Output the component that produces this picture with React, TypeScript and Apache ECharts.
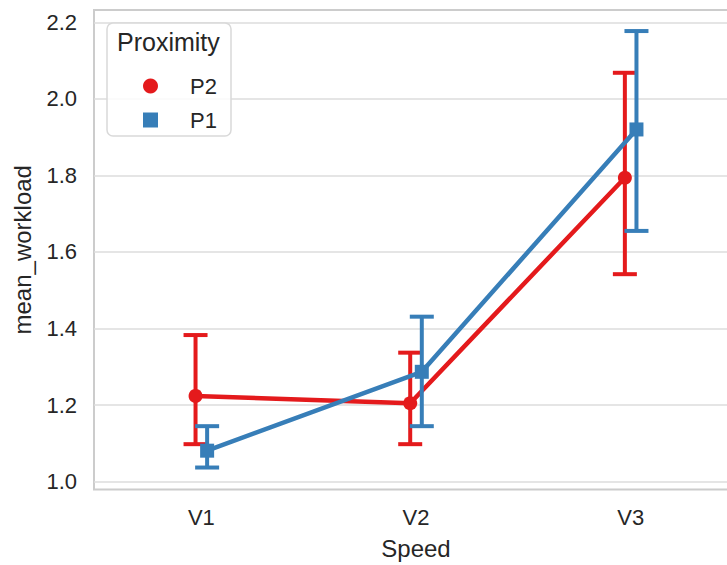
import React, { useEffect, useRef } from "react";
import * as echarts from "echarts";

const categories = ["V1", "V2", "V3"];
const seriesNames = ["P2", "P1"];
const p2Mean = [1.224, 1.205, 1.794];
const p2Low = [1.098, 1.098, 1.542];
const p2High = [1.383, 1.337, 2.068];
const p1Mean = [1.081, 1.287, 1.92];
const p1Low = [1.037, 1.145, 1.655];
const p1High = [1.145, 1.431, 2.177];
const yTicks = [1.0, 1.2, 1.4, 1.6, 1.8, 2.0, 2.2];

const RED = "#e41a1c";
const BLUE = "#377eb8";
const TEXT = "#262626";
const FONT = "'Liberation Sans', Arial, sans-serif";
const DODGE = 0.027;

function errorSeries(name: string, color: string, offset: number, lo: number[], hi: number[], z: number) {
  return {
    type: "custom",
    name,
    z,
    silent: true,
    encode: { x: 0, y: [1, 2] },
    data: categories.map((_, i) => [i + offset, lo[i], hi[i]]),
    renderItem: (_params: any, api: any) => {
      const x = api.value(0);
      const pLo = api.coord([x, api.value(1)]);
      const pHi = api.coord([x, api.value(2)]);
      const hw = 12;
      const style = { stroke: color, lineWidth: 4, fill: "none" };
      return {
        type: "group",
        children: [
          { type: "line", shape: { x1: pLo[0], y1: pLo[1], x2: pHi[0], y2: pHi[1] }, style },
          { type: "line", shape: { x1: pLo[0] - hw, y1: pLo[1], x2: pLo[0] + hw, y2: pLo[1] }, style },
          { type: "line", shape: { x1: pHi[0] - hw, y1: pHi[1], x2: pHi[0] + hw, y2: pHi[1] }, style },
        ],
      };
    },
  };
}

function lineSeries(name: string, color: string, offset: number, mean: number[], symbol: string, size: number, z: number) {
  return {
    type: "line",
    name,
    z,
    symbol,
    symbolSize: size,
    showSymbol: true,
    silent: true,
    data: categories.map((_, i) => [i + offset, mean[i]]),
    lineStyle: { color, width: 4.5 },
    itemStyle: { color, borderWidth: 0 },
  };
}

export default function App() {
  const ref = useRef<HTMLDivElement>(null);
  useEffect(() => {
    if (!ref.current) return;
    const chart = echarts.init(ref.current, undefined, { renderer: "svg" });
    chart.setOption({
      animation: false,
      backgroundColor: "#ffffff",
      textStyle: { fontFamily: FONT, color: TEXT },
      grid: {
        left: 94,
        top: 10,
        bottom: 75.5,
        right: -11,
        outerBoundsMode: "none",
        containLabel: false,
        show: true,
        borderColor: "#cccccc",
        borderWidth: 2,
        backgroundColor: "transparent",
      },
      xAxis: {
        type: "value",
        min: -0.5,
        max: 2.5,
        name: "Speed",
        nameLocation: "middle",
        nameGap: 47,
        nameTextStyle: { fontSize: 24, color: TEXT, fontFamily: FONT },
        axisLine: { show: false },
        axisTick: { show: false, customValues: [0, 1, 2] },
        splitLine: { show: false },
        axisLabel: {
          customValues: [0, 1, 2],
          formatter: (v: number) => categories[Math.round(v)] ?? "",
          fontSize: 22,
          color: TEXT,
          fontFamily: FONT,
          margin: 17,
        },
      },
      yAxis: {
        type: "value",
        min: 0.9796,
        max: 2.232,
        name: "mean_workload",
        nameLocation: "middle",
        nameRotate: 90,
        nameGap: 60,
        nameTextStyle: { fontSize: 24, color: TEXT, fontFamily: FONT },
        axisLine: { show: false },
        axisTick: { show: false, customValues: yTicks },
        splitLine: { show: true, lineStyle: { color: "#dddddd", width: 1.5 } },
        axisLabel: {
          customValues: yTicks,
          formatter: (v: number) => v.toFixed(1),
          fontSize: 22,
          color: TEXT,
          fontFamily: FONT,
          margin: 17,
        },
      },
      legend: {
        data: [
          { name: seriesNames[0], icon: "circle" },
          { name: seriesNames[1], icon: "rect" },
        ],
        orient: "vertical",
        left: 138,
        top: 70,
        itemWidth: 15,
        itemHeight: 15,
        itemGap: 12,
        selectedMode: false,
        z: 12,
        textStyle: { fontSize: 22, color: TEXT, fontFamily: FONT, lineHeight: 22, padding: [0, 0, 0, 27] },
      },
      graphic: [
        {
          type: "rect",
          z: 10,
          shape: { x: 107, y: 23, width: 124, height: 113, r: 6 },
          style: { fill: "rgba(255,255,255,0.85)", stroke: "#d9d9d9", lineWidth: 1.5 },
        },
        {
          type: "text",
          z: 11,
          x: 117,
          y: 42,
          style: { text: "Proximity", fontSize: 25, fill: TEXT, fontFamily: FONT, verticalAlign: "middle", align: "left" },
        },
      ],
      series: [
        errorSeries("P2 ci", RED, -DODGE, p2Low, p2High, 2),
        lineSeries(seriesNames[0], RED, -DODGE, p2Mean, "circle", 14, 3),
        errorSeries("P1 ci", BLUE, DODGE, p1Low, p1High, 4),
        lineSeries(seriesNames[1], BLUE, DODGE, p1Mean, "rect", 14, 5),
      ],
    });
    return () => chart.dispose();
  }, []);
  return <div ref={ref} style={{ position: "fixed", left: 0, top: 0, width: 727, height: 565 }} />;
}
